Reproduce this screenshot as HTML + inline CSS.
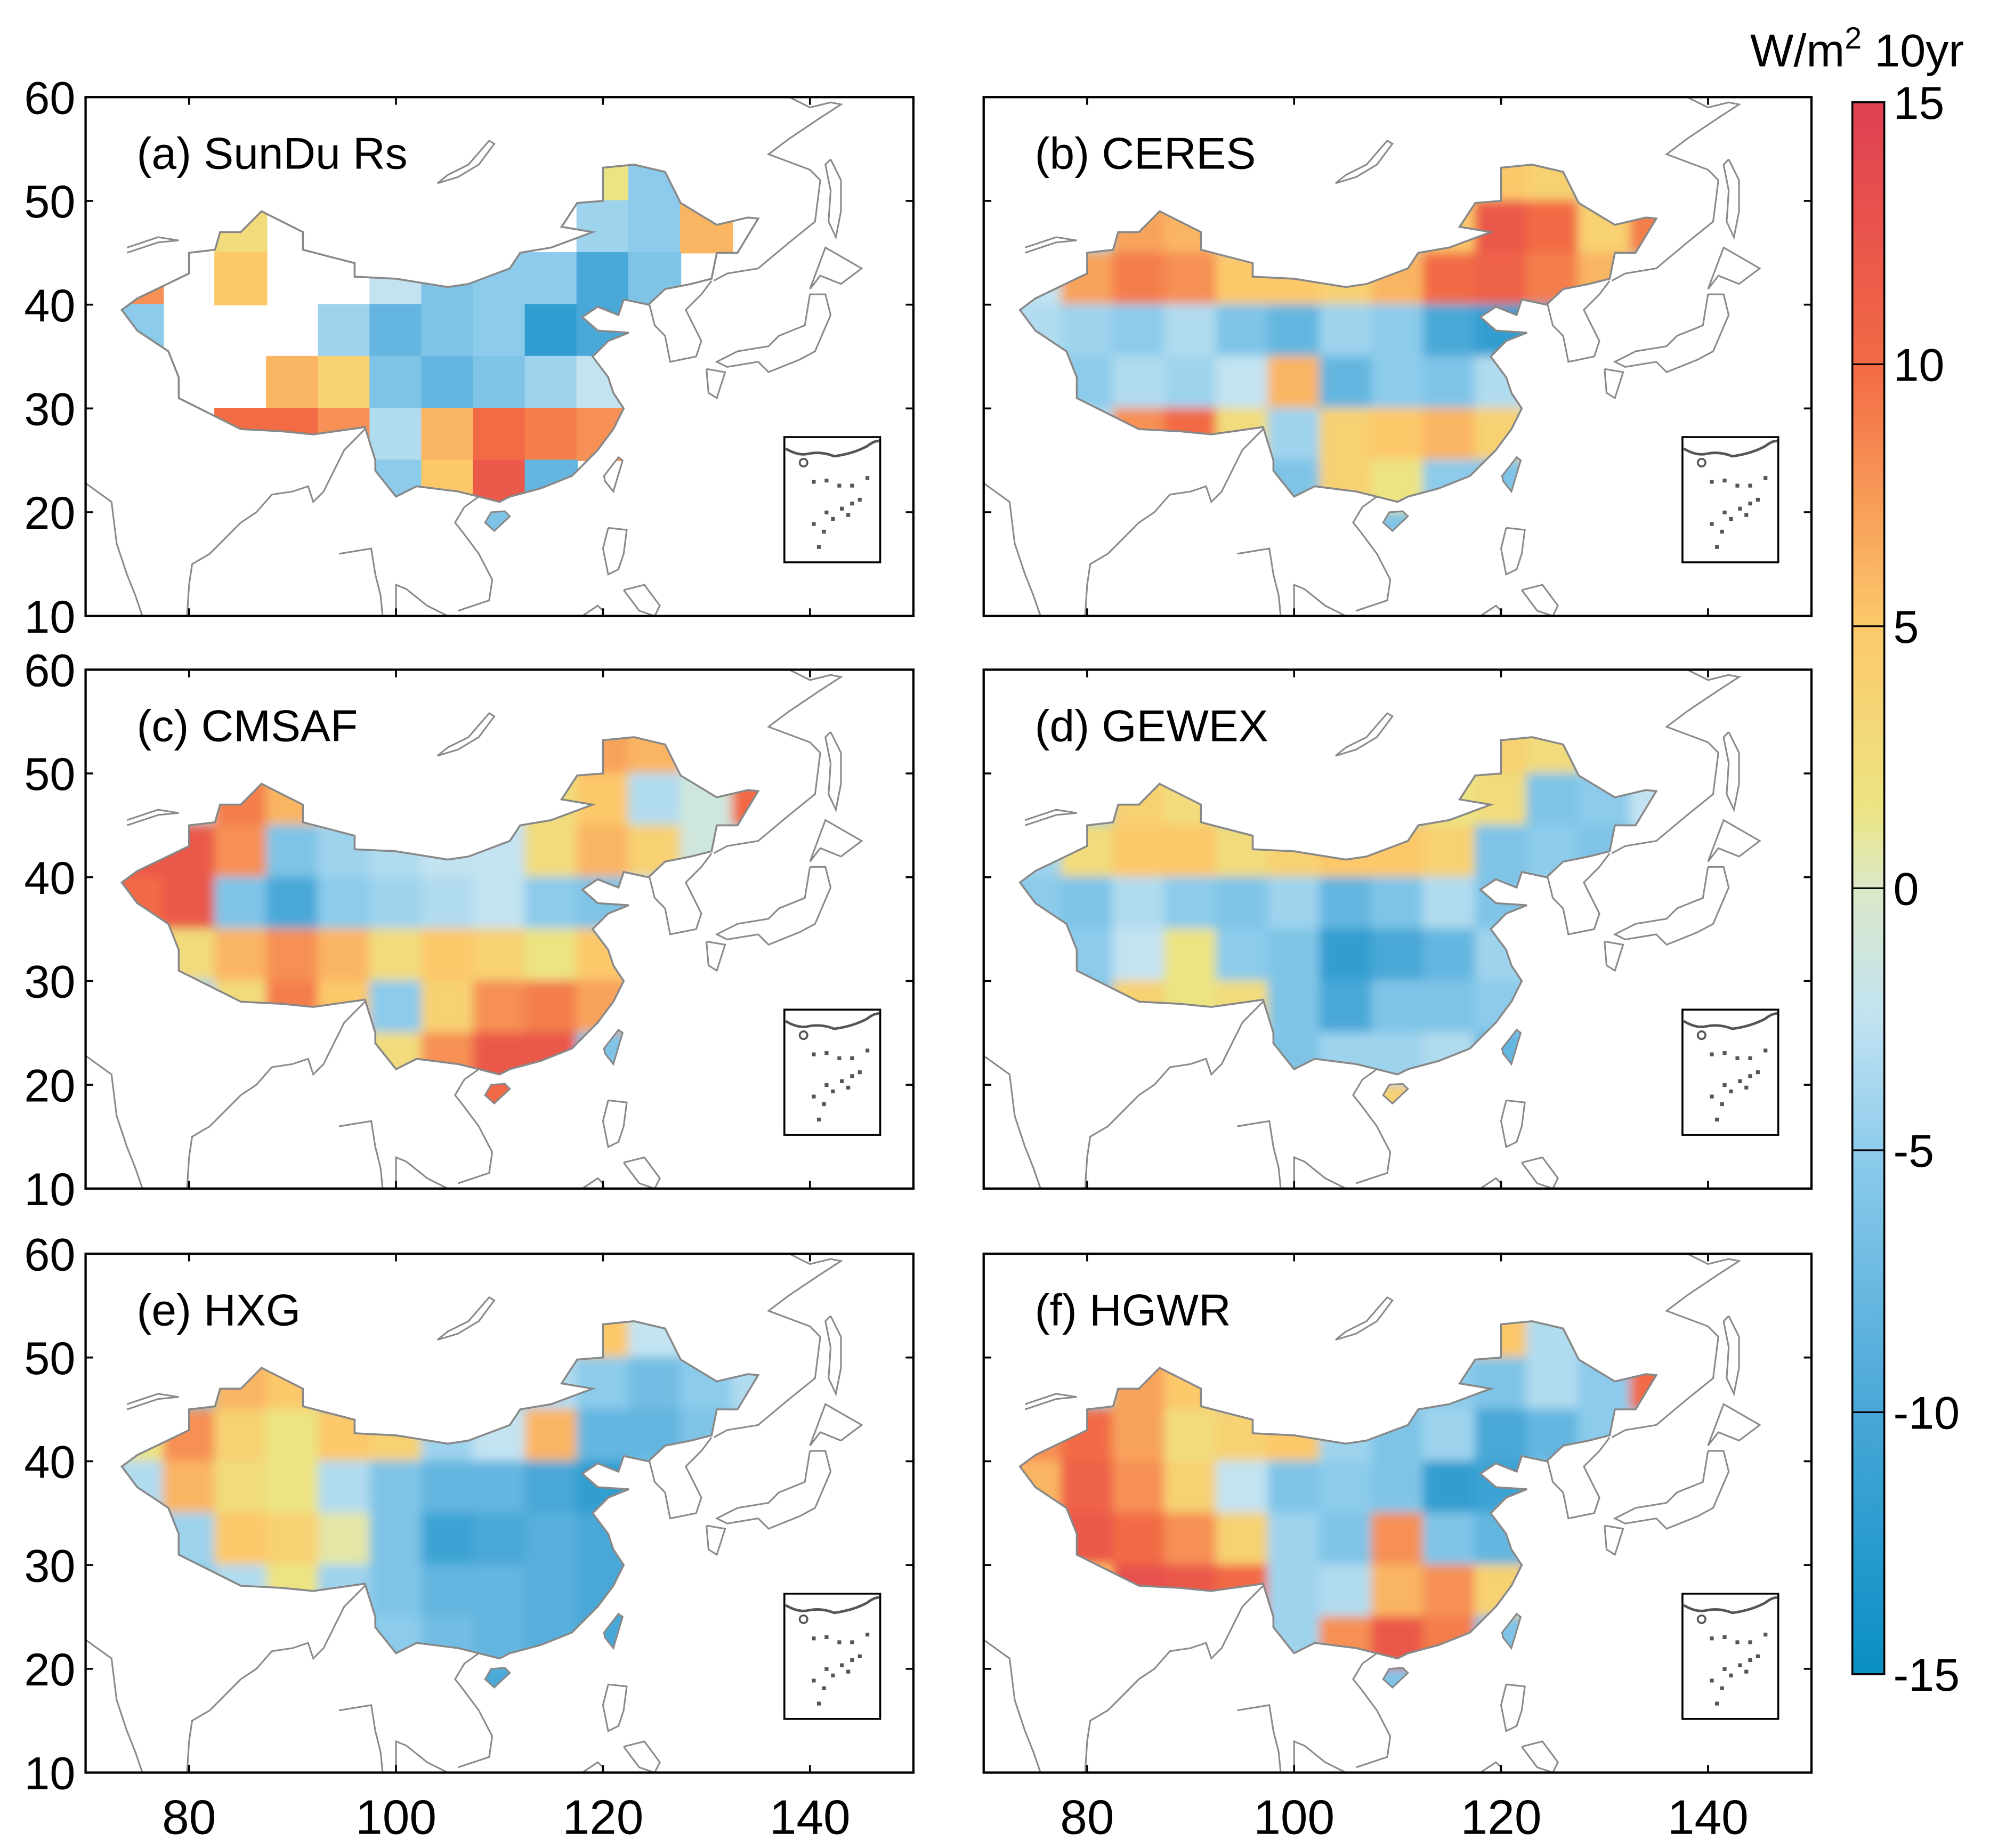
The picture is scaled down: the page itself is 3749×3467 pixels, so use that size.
<!DOCTYPE html>
<html><head><meta charset="utf-8">
<style>
html,body{margin:0;padding:0;background:#fff;}
svg{display:block;font-family:"Liberation Sans",Arial,sans-serif;}
</style></head>
<body>
<svg id="fig" width="3749" height="3467" viewBox="0 0 1564 1446" preserveAspectRatio="none" xmlns="http://www.w3.org/2000/svg">
<defs>
<filter id="blur" x="-10%" y="-10%" width="120%" height="120%"><feGaussianBlur stdDeviation="9"/></filter>
<filter id="blurs" x="-10%" y="-10%" width="120%" height="120%"><feGaussianBlur stdDeviation="4"/></filter>
<linearGradient id="cbgrad" x1="0" y1="0" x2="0" y2="1">
<stop offset="0" stop-color="#df3f52"/>
<stop offset="0.17" stop-color="#f26b45"/>
<stop offset="0.33" stop-color="#fcc86a"/>
<stop offset="0.45" stop-color="#ece483"/>
<stop offset="0.5" stop-color="#dbe8c8"/>
<stop offset="0.58" stop-color="#c3e3f1"/>
<stop offset="0.67" stop-color="#8ccbeb"/>
<stop offset="0.83" stop-color="#4aa8d8"/>
<stop offset="1" stop-color="#0a8fc4"/>
</linearGradient>
</defs>
<g id="panels"></g>
<g id="colorbar"></g>
</svg>
<script>
const NS="http://www.w3.org/2000/svg";
const svg=document.getElementById('fig');
const panelsG=document.getElementById('panels');
// grid definitions
const lonCenters=[75,80,85,90,95,100,105,110,115,120,125,130,135];
const latTops=[55,50,45,40,35,30,25,20];
const panelTitles=["(a) SunDu Rs","(b) CERES","(c) CMSAF","(d) GEWEX","(e) HXG","(f) HGWR"];
const yTicks=[60,50,40,30,20,10];
const xTicks=[80,100,120,140];
const cbTicks=[15,10,5,0,-5,-10,-15];
const N=null;
const valsA=[
[N,N,N,N,N,N,N,N,N,2,-5,N,N],
[N,N,3,N,N,N,N,N,N,-4,-5,6,N],
[8,N,5,N,N,-2,-6,-5,-5,-10,-6,N,N],
[-5,N,N,N,-4,-8,-6,-5,-12,-10,N,N,N],
[N,N,N,6,4,-6,-8,-6,-4,-2,N,N,N],
[N,N,10,10,8,-3,6,10,9,8,N,N,N],
[N,N,N,N,N,-5,5,12,-8,N,N,N,N],
[N,N,N,N,N,N,N,-6,N,N,N,N,N]];
const valsB=[
[N,N,N,N,N,N,N,N,N,5,4,N,N],
[N,N,7,6,N,N,N,N,5,12,10,4,9],
[-2,7,9,8,5,5,4,6,10,11,9,6,N],
[-3,-4,-5,-3,-6,-8,-4,-5,-10,-12,-10,N,N],
[N,-5,-3,-4,-2,6,-8,-5,-6,-3,N,N,N],
[N,-3,8,10,3,-4,4,5,6,4,N,N,N],
[N,N,N,N,N,-6,4,2,-5,-6,N,N,N],
[N,N,N,N,N,N,N,-6,N,N,N,N,N]];
const valsC=[
[N,N,N,N,N,N,N,N,N,7,6,N,N],
[N,N,9,6,N,N,N,N,3,5,-3,-1,10],
[12,12,8,-6,-4,-3,-2,-2,3,6,4,-1,N],
[10,12,-6,-10,-5,-4,-3,-2,-5,-6,-2,N,N],
[N,3,6,8,6,3,5,4,2,5,N,N,N],
[N,-4,3,9,5,-5,4,8,9,7,N,N,N],
[N,N,N,N,N,3,8,12,12,-6,N,N,N],
[N,N,N,N,N,N,N,10,N,N,N,N,N]];
const valsD=[
[N,N,N,N,N,N,N,N,N,4,3,N,N],
[N,N,4,3,N,N,N,N,2,3,-6,-5,-2],
[-4,3,5,5,3,4,5,5,4,-6,-5,-6,N],
[-5,-6,-3,-5,-6,-4,-8,-6,-3,-6,-4,N,N],
[N,-5,-2,2,-5,-6,-12,-10,-8,-4,N,N,N],
[N,-6,4,2,3,-6,-10,-6,-6,-5,N,N,N],
[N,N,N,N,N,-6,-4,-4,-3,-8,N,N,N],
[N,N,N,N,N,N,N,4,N,N,N,N,N]];
const valsE=[
[N,N,N,N,N,N,N,N,N,5,-2,N,N],
[N,N,6,5,N,N,N,N,-3,-5,-7,-5,-3],
[2,8,4,2,5,4,-4,-2,6,-8,-8,-6,N],
[-3,6,3,2,-3,-6,-8,-8,-10,-12,-6,N,N],
[N,-4,5,4,1,-6,-11,-10,-9,-10,N,N,N],
[N,-5,-3,2,-4,-6,-8,-8,-9,-10,N,N,N],
[N,N,N,N,N,-5,-7,-8,-9,-10,N,N,N],
[N,N,N,N,N,N,N,-10,N,N,N,N,N]];
const valsF=[
[N,N,N,N,N,N,N,N,N,5,-3,N,N],
[N,N,7,5,N,N,N,N,-5,-6,-3,-5,10],
[8,10,7,3,4,5,-4,-6,-4,-10,-8,-5,N],
[6,11,8,4,-2,-6,-5,-6,-12,-11,-6,N,N],
[N,12,10,8,4,-4,-6,8,-6,-8,N,N,N],
[N,5,13,12,10,-4,-3,6,8,4,N,N,N],
[N,N,N,N,N,-4,8,12,9,-6,N,N,N],
[N,N,N,N,N,N,N,-6,N,N,N,N,N]];
const panelVals=[valsA,valsB,valsC,valsD,valsE,valsF];
const panelBase=[null,-3,-2,-4,-5,-3];
// China outline (lon,lat)
const chinaLon=[73.5,75,78,79,79,81,85,89,92,97,98,98,100,102,106,108,110,111,114,117,119.5,121,122,121,120.5,119,120.5,122.5,119.5,118,119.5,121.5,122,124.4,126,128.5,130.5,131,133,135,134,131,127.5,126,123,120,120,117.5,116,119,115,112,111,107,105,100,96,96,91,91,88,87,85,83,82.5,80,80,75];
const chinaLat=[39.5,37.5,35.5,33,31,30,28,27.8,27.5,28.2,25,24,21.5,22.5,22,21.5,21,21.5,22.3,23.5,26,28,30,31.5,33,35,36.5,37.3,37.5,38.8,39.8,39,40.5,40,41.5,42,42.5,45,45,48.3,48.4,47.7,49.8,52.8,53.5,53.2,50,49.8,47.5,47,45.5,45,43.5,42,41.7,42.5,42.7,44,45.3,47,48.5,49,47,47,45.3,45,43,40.6];
const taiwanLon=[120.2,121,121.9,121.5,120.1];const taiwanLat=[23,22,25,25.3,23.5];
const hainanLon=[108.6,109.5,111,110.5,109.2];const hainanLat=[19,18.2,19.6,20.1,20];
const coastLines=[
[[138,60],[140,59],[142,59.5],[143,59.3],[141,58],[138,56],[136,54.5],[140,53],[141,52],[140.5,48],[138,46],[135,43.5],[132,43],[130.7,42.3]],
[[142,54],[143,52],[143,49],[142.5,46.5],[141.8,48],[142,51],[141.5,53.5],[142,54]],
[[140,41.5],[141.5,45.5],[145,43.5],[143,42],[141,42.8],[140,41.5]],
[[140,41],[141.5,41],[142,39],[140.5,35.5],[139,34.7],[136,33.5],[135,34.5],[132,34],[131,34.5],[133,35.5],[136,36],[137,37],[139.5,38],[140,41]],
[[124.5,40],[125,38],[126,37],[126.5,34.5],[129,35],[129.5,36.5],[128.5,38.5],[128,39.5],[129.5,41],[130.5,42.3]],
[[130,33.8],[131.8,33.5],[131,31],[130.2,31.5],[130,33.8]],
[[104,51.7],[106,52.3],[108,53.5],[109.5,55.5],[109,55.8],[107,53.5],[105,52.5],[104,51.7]],
[[74,45.5],[77,46.5],[79,46.2],[77,46],[74,45]],
[[97,28],[95,26],[94,24],[93,22],[92,21],[91.5,22.5],[90,22],[88,21.7],[86.5,20],[85,19],[83,17],[82,16],[80.3,15],[80,13],[79.8,10]],
[[70,22.8],[72.5,21],[73,17],[74,14],[74.8,12],[75.5,10]],
[[94.5,16],[97.6,16.5],[98,14],[98.5,12],[98.7,10]],
[[100,10],[100,13],[101,12.6],[103,11],[105,10]],
[[106,10.5],[109,11.5],[109.3,13.5],[108,16],[106.5,18],[105.7,19],[106.6,20.5],[108,21.5]],
[[120.5,18.5],[122.3,18.3],[122,16],[121.5,14.5],[120.5,14],[120,16.5],[120.5,18.5]],
[[122,12.5],[124,13],[125.5,11],[125,10],[123.5,10.5],[122,12.5]],
[[118,10],[119.5,11],[120,10.5]]];
const colStops=[[-15,[10,143,196]],[-10,[74,168,216]],[-5,[140,203,235]],[-2,[195,227,241]],[0,[219,232,200]],[2,[236,228,131]],[5,[252,200,106]],[10,[242,107,69]],[15,[223,63,82]]];
function color(v){
  v=Math.max(-15,Math.min(15,v));
  for(let i=0;i<colStops.length-1;i++){const a=colStops[i],b=colStops[i+1];
    if(v<=b[0]){const t=(v-a[0])/(b[0]-a[0]);const c=a[1].map((x,k)=>Math.round(x+(b[1][k]-x)*t));return `rgb(${c})`;}}
  return 'rgb(223,63,82)';
}
function el(tag,attrs,parent){const e=document.createElementNS(NS,tag);for(const k in attrs)e.setAttribute(k,attrs[k]);if(parent)parent.appendChild(e);return e;}
const PW=648,PH=406;
const origins=[[67,76],[770,76],[67,524],[770,524],[67,981],[770,981]];
origins.forEach((o,p)=>{
  const [x0,y0]=o;
  const X=lon=>x0+(lon-70)*PW/80;
  const Y=lat=>y0+(60-lat)*PH/50;
  const ptsOf=(lons,lats)=>lons.map((l,i)=>X(l).toFixed(1)+','+Y(lats[i]).toFixed(1)).join(' ');
  const g=el('g',{},panelsG);
  
  
  const cp=el('clipPath',{id:'clip'+p},g);
  el('polygon',{points:ptsOf(chinaLon,chinaLat)},cp);
  el('polygon',{points:ptsOf(taiwanLon,taiwanLat)},cp);
  el('polygon',{points:ptsOf(hainanLon,hainanLat)},cp);
  const pc=el('clipPath',{id:'pclip'+p},g);
  el('rect',{x:x0,y:y0,width:PW,height:PH},pc);
  // coastlines
  const cg=el('g',{'clip-path':'url(#pclip'+p+')'},g);
  
  
  coastLines.forEach(line=>{
    el('polyline',{points:line.map(q=>X(q[0]).toFixed(1)+','+Y(q[1]).toFixed(1)).join(' '),fill:'none',stroke:'#8a8a8a','stroke-width':1.3},cg);
  });
  // data
  const dg=el('g',{'clip-path':'url(#clip'+p+')'},g);
  
  
  if(panelBase[p]!==null) el('rect',{x:X(72),y:Y(55),width:X(137)-X(72),height:Y(17)-Y(55),fill:color(panelBase[p])},dg);
  const cells=el('g',p===0?{}:{filter:'url(#blurs)'},dg);
  const vals=panelVals[p];
  vals.forEach((row,r)=>row.forEach((v,c)=>{
    if(v===null)return;
    const cell=el('rect',{x:X(lonCenters[c]-2.5)-0.5,y:Y(latTops[r])-0.5,width:X(lonCenters[c]+2.5)-X(lonCenters[c]-2.5)+1,height:Y(latTops[r]-5)-Y(latTops[r])+1,fill:color(v)},cells);
    
    
  }));
  const outline=el('polygon',{points:ptsOf(chinaLon,chinaLat),fill:'none',stroke:'#888','stroke-width':1.5},g);
  
  
  el('polygon',{points:ptsOf(taiwanLon,taiwanLat),fill:'none',stroke:'#888','stroke-width':1.3},g);
  el('polygon',{points:ptsOf(hainanLon,hainanLat),fill:'none',stroke:'#888','stroke-width':1.3},g);
  // inset
  const ins=el('g',{},g);
  
  
  el('rect',{x:x0+547,y:y0+266,width:75,height:98,fill:'#fff',stroke:'#000','stroke-width':1.5},ins);
  el('path',{d:`M${x0+548},${y0+275} q10,6 18,4 q10,-2 20,2 q15,-2 26,-8 q5,-4 9,-4`,fill:'none',stroke:'#555','stroke-width':2},ins);
  el('circle',{cx:x0+562,cy:y0+286,r:3,fill:'none',stroke:'#555','stroke-width':1.5},ins);
  [[570,301],[580,300],[590,304],[600,304],[612,298],[580,325],[592,322],[600,318],[606,315],[570,334],[585,330],[578,340],[597,327],[574,352]].forEach(q=>el('rect',{x:x0+q[0]-1.5,y:y0+q[1]-1.5,width:3,height:3,fill:'#555'},ins));
  // frame
  const fr=el('rect',{x:x0,y:y0,width:PW,height:PH,fill:'none',stroke:'#000','stroke-width':1.8},g);
  
  
  xTicks.forEach(t=>{el('line',{x1:X(t),x2:X(t),y1:y0,y2:y0+6,stroke:'#000','stroke-width':1.5},g);el('line',{x1:X(t),x2:X(t),y1:y0+PH,y2:y0+PH-6,stroke:'#000','stroke-width':1.5},g);});
  yTicks.forEach(t=>{el('line',{x1:x0,x2:x0+6,y1:Y(t),y2:Y(t),stroke:'#000','stroke-width':1.5},g);el('line',{x1:x0+PW,x2:x0+PW-6,y1:Y(t),y2:Y(t),stroke:'#000','stroke-width':1.5},g);});
  const tt=el('text',{x:x0+40,y:y0+56,'font-size':35,fill:'#000'},g);
  tt.textContent=panelTitles[p];
  
  
  if(p%2===0){
    yTicks.forEach(t=>{const tl=el('text',{x:x0-8,y:Y(t)+13,'font-size':36,'text-anchor':'end',fill:'#000'},g);tl.textContent=t;
      
      });
  }
  if(p>=4){
    xTicks.forEach(t=>{const tl=el('text',{x:X(t),y:y0+PH+48,'font-size':38,'text-anchor':'middle',fill:'#000'},g);tl.textContent=t;
      
      });
  }
});
// colorbar
const cb=document.getElementById('colorbar');
const cbX=1450,cbW=25,cbTop=80,cbBot=1310;
const CY=v=>cbTop+(15-v)*(cbBot-cbTop)/30;
el('rect',{x:cbX,y:cbTop,width:cbW,height:cbBot-cbTop,fill:'url(#cbgrad)',stroke:'#000','stroke-width':1.5},cb);
cbTicks.forEach(t=>{
  el('line',{x1:cbX,x2:cbX+cbW,y1:CY(t),y2:CY(t),stroke:'#000','stroke-width':1.3},cb);
  const tl=el('text',{x:cbX+32,y:CY(t)+13,'font-size':36,fill:'#000'},cb);
  tl.textContent=t;
  
  
});
const unit=el('text',{x:1370,y:52,'font-size':36,fill:'#000'},cb);
unit.innerHTML='W/m<tspan dy="-14" font-size="24">2</tspan><tspan dy="14"> 10yr</tspan>';


</script>
</body></html>
